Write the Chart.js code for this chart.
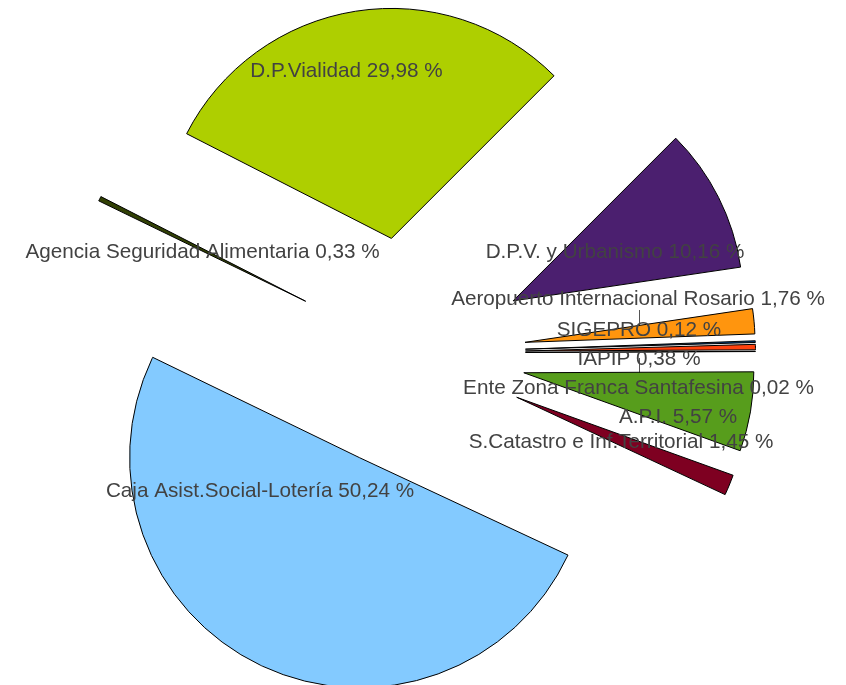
<!DOCTYPE html>
<html>
<head>
<meta charset="utf-8">
<script src="https://cdn.jsdelivr.net/npm/chart.js@4/dist/chart.umd.min.js"></script>
<style>
  body { margin: 0; background: #fff; }
  canvas { display: block; }
</style>
</head>
<body>
<canvas id="torta" width="846" height="685"></canvas>
<script>
// datos
const categorias = [
  'SIGEPRO',
  'IAPIP',
  'Ente Zona Franca Santafesina',
  'A.P.I.',
  'S.Catastro e Inf.Territorial',
  'Caja Asist.Social-Lotería',
  'Agencia Seguridad Alimentaria',
  'D.P.Vialidad',
  'D.P.V. y Urbanismo',
  'Aeropuerto Internacional Rosario'
];
const porcentajes = [0.12, 0.38, 0.02, 5.57, 1.45, 50.24, 0.33, 29.98, 10.16, 1.76];

// estilos (paleta de LibreOffice)
const colores = ['#004586', '#ff420e', '#ffd320', '#579d1c', '#7e0021',
                 '#83caff', '#314004', '#aecf00', '#4b1f6f', '#ff950e'];

// posicion de cada etiqueta (centro de la linea base) respecto al centro de la torta
const posEtiquetas = [
  [229.5, -17], [229.5, 12], [229, 41.3], [268.5, 69.7], [211.5, 95.3],
  [-149.5, 144.3], [-207, -95], [-63, -276.3], [205.5, -94.7], [228.5, -48]
];
// lineas guia (dx, dy1, dy2) respecto al centro
const lineasGuia = [[229.5, -43, -27], [229.5, 5, 21]];

const RADIO = 230;
const SEPARACION = 116;

const formato = v => v.toFixed(2).replace('.', ',') + ' %';

// separa cada porcion del centro sobre su angulo medio
const separarPorciones = {
  id: 'separarPorciones',
  afterDatasetsUpdate(chart) {
    chart.getDatasetMeta(0).data.forEach(arc => {
      const medio = (arc.startAngle + arc.endAngle) / 2;
      arc.x += Math.cos(medio) * SEPARACION;
      arc.y += Math.sin(medio) * SEPARACION;
    });
  }
};

const etiquetas = {
  id: 'etiquetas',
  beforeDatasetsDraw(chart) {
    const { ctx, chartArea } = chart;
    const cx = (chartArea.left + chartArea.right) / 2;
    const cy = (chartArea.top + chartArea.bottom) / 2;
    ctx.save();
    ctx.strokeStyle = '#555';
    ctx.lineWidth = 1;
    lineasGuia.forEach(([dx, y1, y2]) => {
      ctx.beginPath();
      ctx.moveTo(Math.round(cx + dx) + 0.5, cy + y1);
      ctx.lineTo(Math.round(cx + dx) + 0.5, cy + y2);
      ctx.stroke();
    });
    ctx.restore();
  },
  afterDatasetsDraw(chart) {
    const { ctx, chartArea } = chart;
    const cx = (chartArea.left + chartArea.right) / 2;
    const cy = (chartArea.top + chartArea.bottom) / 2;
    ctx.save();
    ctx.font = '20.7px "Liberation Sans", Arial, sans-serif';
    ctx.fillStyle = '#424242';
    ctx.textAlign = 'center';
    ctx.textBaseline = 'alphabetic';
    categorias.forEach((cat, i) => {
      const [dx, dy] = posEtiquetas[i];
      ctx.fillText(cat + ' ' + formato(porcentajes[i]), cx + dx, cy + dy);
    });
    ctx.restore();
  }
};

new Chart(document.getElementById('torta'), {
  type: 'pie',
  data: {
    labels: categorias,
    datasets: [{
      data: porcentajes,
      backgroundColor: colores,
      borderColor: '#000',
      borderWidth: 1,
      radius: RADIO,
      clip: false
    }]
  },
  options: {
    responsive: false,
    animation: false,
    rotation: 87.9,
    layout: { padding: { top: 21, right: 27, bottom: 0, left: 0 } },
    plugins: {
      legend: { display: false },
      tooltip: { enabled: false }
    }
  },
  plugins: [separarPorciones, etiquetas]
});
</script>
</body>
</html>
